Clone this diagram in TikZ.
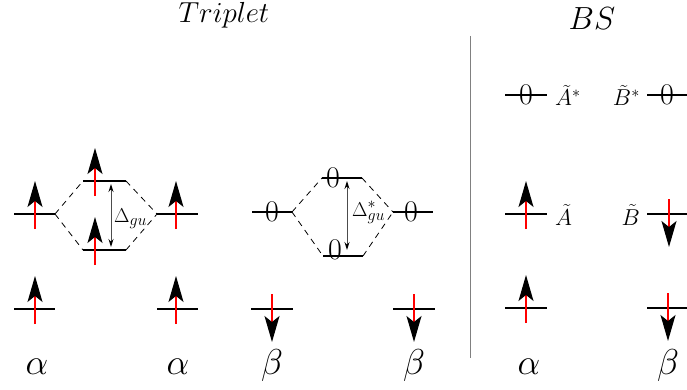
\RequirePackage{fix-cm}
\documentclass[tikz,border=0pt]{standalone}
\usetikzlibrary{arrows.meta}
\newcommand\mylev[4]{% name, x-left, x-right, y
  \coordinate (#1l) at (#2,#4);
  \coordinate (#1r) at (#3,#4);
  \draw[level] (#1l) -- (#1r);}
\newcommand\spinup[2]{% level name, x
  \coordinate (#1sa) at (#2,0 |- #1l);
  \draw[spin] ([yshift=-15pt]#1sa) -- ([yshift=33pt]#1sa);}
\newcommand\spindown[2]{%
  \coordinate (#1sa) at (#2,0 |- #1l);
  \draw[spin] ([yshift=15pt]#1sa) -- ([yshift=-33pt]#1sa);}
\newcommand\zero[3]{% level name, x, yshift
  \coordinate (#1za) at (#2,0 |- #1l);
  \node[zeronode] (#1z) at ([yshift=#3pt]#1za) {0};}
\newcommand\smallmath[1]{\mbox{\fontsize{16}{16}\selectfont$#1$}}
\begin{document}
\begin{tikzpicture}[x=1pt,y=-1pt,
  level/.style={line width=2.8pt},
  conn/.style={line width=0.8pt, dash pattern=on 6pt off 5pt},
  spin/.style={red, line width=1.3pt, -{Stealth[length=26pt,width=15pt,inset=6pt,black]}},
  gaparrow/.style={line width=0.9pt, black!70, {Stealth[length=8pt,width=5pt,black]}-{Stealth[length=8pt,width=5pt,black]}},
  zeronode/.style={inner sep=0pt, font=\fontsize{30}{30}\selectfont},
  spinlabel/.style={inner sep=0pt, anchor=base, font=\fontsize{36}{40}\selectfont},
  orblabel/.style={inner sep=0pt, font=\fontsize{23}{25}\selectfont},
  gaplabel/.style={inner sep=0pt, anchor=base west, font=\fontsize{20}{22}\selectfont},
]
\useasboundingbox (0,0) rectangle (687,390);
\clip (0,0) rectangle (687,390);

% titles
\node[inner sep=0pt, anchor=base, font=\fontsize{29}{31}\selectfont] (ttrip) at (224,23) {$Triplet$};
\node[inner sep=0pt, anchor=base, font=\fontsize{32}{34}\selectfont] (tbs) at (592,30) {$BS$};

% divider
\coordinate (dtop) at (470.5,36);
\coordinate (dbot) at (470.5,358);
\draw[gray, line width=1.5pt] (dtop) -- (dbot);

% ---- Triplet, alpha part
\mylev{a1}{14}{55}{214}
\mylev{a2}{83}{126}{181}
\mylev{a3}{83}{126}{250}
\mylev{a4}{157}{198}{214}
\mylev{a5}{14}{55}{309}
\mylev{a6}{157}{198}{309}
\spinup{a1}{35}
\spinup{a2}{95}
\spinup{a3}{95}
\spinup{a4}{176}
\spinup{a5}{35}
\spinup{a6}{176}
\draw[conn] (a1r) -- (a2l);
\draw[conn] (a1r) -- (a3l);
\draw[conn] (a2r) -- (a4l);
\draw[conn] (a3r) -- (a4l);
\coordinate (g1t) at (111,184);
\coordinate (g1b) at (111,247);
\draw[gaparrow] (g1t) -- (g1b);
\node[gaplabel] (dgu) at (114,222) {$\Delta_{\smallmath{gu}}$};

% ---- Triplet, beta part
\mylev{b1}{252}{292}{212}
\mylev{b2}{322}{362}{178}
\mylev{b3}{323}{363}{256}
\mylev{b4}{393}{433}{212}
\mylev{b5}{251}{293}{309}
\mylev{b6}{393}{435}{309}
\zero{b1}{272}{0}
\zero{b2}{333}{0}
\zero{b3}{335}{6}
\zero{b4}{411}{0}
\spindown{b5}{272}
\spindown{b6}{414}
\draw[conn] (b1r) -- (b2l);
\draw[conn] (b1r) -- (b3l);
\draw[conn] (b2r) -- (b4l);
\draw[conn] (b3r) -- (b4l);
\coordinate (g2t) at (347,181);
\coordinate (g2b) at (347,250);
\draw[gaparrow] (g2t) -- (g2b);
\node[gaplabel] (dgus) at (352,216) {$\Delta^{\smallmath{*}}_{\smallmath{gu}}$};

% ---- BS
\mylev{c1}{505}{547}{95}
\mylev{c2}{647}{692}{95}
\mylev{c3}{505}{547}{214}
\mylev{c4}{647}{692}{214}
\mylev{c5}{505}{547}{308}
\mylev{c6}{647}{692}{308}
\zero{c1}{526}{0}
\zero{c2}{667}{0}
\spinup{c3}{526}
\spindown{c4}{669}
\spinup{c5}{526}
\spindown{c6}{668}
\node[orblabel, anchor=base west] (las) at (555,106) {$\tilde{A}^*$};
\node[orblabel, anchor=base east] (lbs) at (640,106) {$\tilde{B}^*$};
\node[orblabel, anchor=base west] (la) at (555,225) {$\tilde{A}$};
\node[orblabel, anchor=base east] (lb) at (640,225) {$\tilde{B}$};

% spin labels
\node[spinlabel] (s1) at (37,374) {$\alpha$};
\node[spinlabel] (s2) at (178,374) {$\alpha$};
\node[spinlabel] (s3) at (272,374) {$\beta$};
\node[spinlabel] (s4) at (414,374) {$\beta$};
\node[spinlabel] (s5) at (529,374) {$\alpha$};
\node[spinlabel] (s6) at (668,374) {$\beta$};
\end{tikzpicture}
\end{document}
